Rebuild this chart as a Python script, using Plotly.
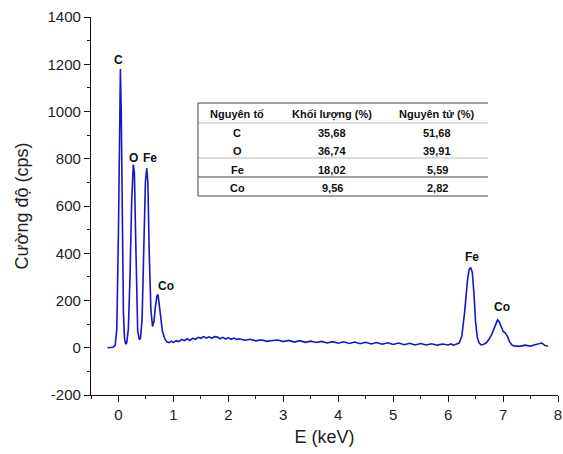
import plotly.graph_objects as go

energy = [-0.20, -0.15, -0.10, -0.06, -0.03, 0.00, 0.02, 0.035, 0.05, 0.07, 0.09, 0.11, 0.13, 0.15,
          0.18, 0.21, 0.24, 0.27, 0.29, 0.31, 0.33, 0.35, 0.38, 0.40, 0.43, 0.46, 0.49, 0.515, 0.535,
          0.56, 0.59, 0.62, 0.645, 0.67, 0.70, 0.72, 0.74, 0.77, 0.80, 0.84, 0.88, 0.92, 0.96, 1.00,
          1.05, 1.10, 1.15, 1.20, 1.25, 1.30, 1.35, 1.40, 1.45, 1.50, 1.55, 1.60, 1.65, 1.70, 1.75,
          1.80, 1.85, 1.90, 1.95, 2.00, 2.05, 2.10, 2.15, 2.20, 2.30, 2.40, 2.50, 2.60, 2.70, 2.80,
          2.90, 3.00, 3.10, 3.20, 3.30, 3.40, 3.50, 3.60, 3.70, 3.80, 3.90, 4.00, 4.10, 4.20, 4.30,
          4.40, 4.50, 4.60, 4.70, 4.80, 4.90, 5.00, 5.10, 5.20, 5.30, 5.40, 5.50, 5.60, 5.70, 5.80,
          5.90, 6.00, 6.05, 6.10, 6.15, 6.20, 6.25, 6.30, 6.35, 6.38, 6.41, 6.44, 6.47, 6.50, 6.53,
          6.56, 6.60, 6.65, 6.70, 6.75, 6.80, 6.85, 6.90, 6.93, 6.97, 7.00, 7.04, 7.08, 7.12, 7.16,
          7.20, 7.30, 7.40, 7.50, 7.60, 7.65, 7.70, 7.72, 7.76, 7.80, 7.82]
counts = [0, 0, 2, 10, 80, 500, 950, 1180, 1000, 500, 150, 40, 15, 20,
          80, 300, 620, 775, 740, 500, 200, 70, 35, 40, 120, 400, 700, 760, 700,
          400, 160, 90, 110, 170, 220, 225, 190, 120, 70, 40, 25, 22, 28, 22,
          30, 26, 35, 30, 38, 31, 40, 36, 44, 40, 47, 41, 46, 40, 47,
          45, 38, 44, 37, 43, 36, 41, 35, 38, 32, 36, 29, 34, 27, 31,
          33, 26, 31, 24, 30, 23, 28, 22, 27, 20, 26, 19, 25, 18, 24,
          17, 23, 16, 22, 15, 21, 14, 20, 13, 19, 12, 18, 12, 17, 11,
          16, 12, 16, 11, 15, 20, 50, 150, 280, 330, 340, 320, 230, 110, 45,
          22, 12, 15, 22, 38, 60, 90, 118, 110, 85, 70, 62, 48, 25, 12,
          8, 6, 11, 7, 14, 18, 20, 17, 10, 7, 6]

peak_labels = ["C", "O", "Fe", "Co", "Fe", "Co"]
peak_label_x = [0.0, 0.27, 0.57, 0.86, 6.44, 6.98]
peak_label_y = [1217, 805, 805, 263, 386, 174]

y_tickvals = [-200, 0, 200, 400, 600, 800, 1000, 1200, 1400]
y_ticktext = ["-200", "0", "200", "400", "600", "800", "1000", "1200", "1400"]

table_header = ["Nguyên tố", "Khối lượng (%)", "Nguyên tử (%)"]
table_elements = ["C", "O", "Fe", "Co"]
table_mass = ["35,68", "36,74", "18,02", "9,56"]
table_atomic = ["51,68", "39,91", "5,59", "2,82"]

FONT = "Liberation Sans, Arial, sans-serif"

fig = go.Figure()
fig.add_trace(go.Scatter(x=energy, y=counts, mode="lines",
                         line=dict(color="#1717c8", width=1.6), showlegend=False))

for t, x, y in zip(peak_labels, peak_label_x, peak_label_y):
    fig.add_annotation(x=x, y=y, text="<b>%s</b>" % t, showarrow=False,
                       xanchor="center", yanchor="middle",
                       font=dict(family=FONT, size=12, color="#111"))

# table in pixel-based paper coordinates
L, R, T, B = 91, 558, 17, 395
def px(x):
    return (x - L) / (R - L)
def py(y):
    return (B - y) / (B - T)

tx0, tx1 = 198, 488
lines_y = [103, 123, 158, 177, 196]
line_cols = ["#444", "#bbb", "#bbb", "#444", "#444"]
for yy, lc in zip(lines_y, line_cols):
    fig.add_shape(type="line", xref="paper", yref="paper", x0=px(tx0), x1=px(tx1),
                  y0=py(yy), y1=py(yy), line=dict(color=lc, width=1))
fig.add_shape(type="line", xref="paper", yref="paper", x0=px(tx0), x1=px(tx0),
              y0=py(103), y1=py(196), line=dict(color="#444", width=1))

col_x = [237, 332, 437]
row_y = [114, 133, 151, 170, 188]
for cx, h in zip(col_x, table_header):
    fig.add_annotation(xref="paper", yref="paper", x=px(cx), y=py(row_y[0]), text="<b>%s</b>" % h,
                       showarrow=False, xanchor="center", yanchor="middle",
                       font=dict(family=FONT, size=11, color="#111"))
for i in range(len(table_elements)):
    for cx, val in zip(col_x, [table_elements[i], table_mass[i], table_atomic[i]]):
        fig.add_annotation(xref="paper", yref="paper", x=px(cx), y=py(row_y[i + 1]),
                           text="<b>%s</b>" % val, showarrow=False,
                           xanchor="center", yanchor="middle",
                           font=dict(family=FONT, size=11, color="#111"))

fig.update_xaxes(range=[-0.5, 8], tickvals=list(range(0, 9)), ticks="outside", ticklen=6,
                 tickwidth=1.2, tickcolor="#111", showline=True, linecolor="#111", linewidth=1.3,
                 showgrid=False, zeroline=False, automargin=False,
                 minor=dict(dtick=0.5, tick0=0, ticks="outside", ticklen=3, tickcolor="#111"),
                 tickfont=dict(family=FONT, size=15, color="#222"),
                 title=dict(text="E (keV)", font=dict(family=FONT, size=18, color="#222"), standoff=8))
fig.update_yaxes(range=[-200, 1400], tickvals=y_tickvals, ticktext=y_ticktext, ticks="outside",
                 ticklen=6, tickwidth=1.2,
                 tickcolor="#111", showline=True, linecolor="#111", linewidth=1.3,
                 showgrid=False, zeroline=False, automargin=False,
                 minor=dict(dtick=100, ticks="outside", ticklen=3, tickcolor="#111"),
                 tickfont=dict(family=FONT, size=15, color="#222"),
                 title=dict(text="Cường độ (cps)", font=dict(family=FONT, size=18, color="#222"), standoff=14))

fig.update_layout(width=563, height=454, margin=dict(l=L, r=563 - R, t=T, b=454 - B, autoexpand=False),
                  plot_bgcolor="white", paper_bgcolor="white")
fig.write_html("out.html", config={"displayModeBar": False},
               post_script="document.body.style.margin='0';document.body.style.overflow='hidden';")
